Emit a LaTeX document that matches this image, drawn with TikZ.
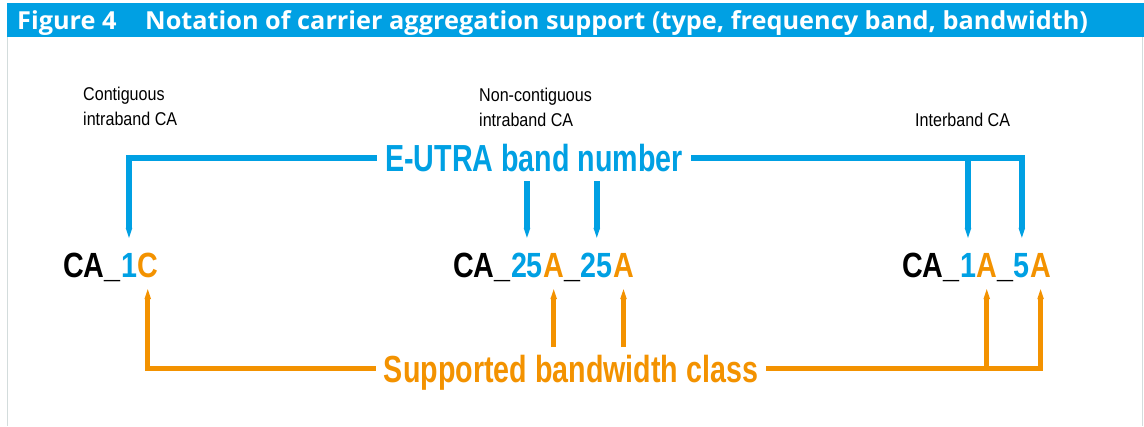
\documentclass[tikz,border=0pt]{standalone}
\usepackage{fontspec}
\setmainfont{Liberation Sans}
\newfontfamily\labfont[FakeStretch=0.76]{Liberation Sans}
\newfontfamily\cafont[FakeStretch=0.82]{Liberation Sans}
\newfontfamily\notefont[FakeStretch=0.87]{Liberation Sans}
\newfontfamily\headfont[FakeStretch=1.02]{Open Sans}
\usetikzlibrary{arrows.meta}
\definecolor{rsblue}{HTML}{00A0E3}
\definecolor{rsorange}{HTML}{F39200}
\definecolor{rsgray}{HTML}{D3DCDC}
\begin{document}
\begin{tikzpicture}[x=1pt,y=-1pt,
  thick line/.style={line width=5.5pt},
  blueline/.style={thick line, draw=rsblue},
  orangeline/.style={thick line, draw=rsorange},
  spike/.style={-{Triangle[width=0pt 1,length=12pt]}},
  bigtext/.style={font=\labfont\bfseries\fontsize{37.7}{40}\selectfont, inner sep=0pt},
  capart/.style={font=\cafont\bfseries\fontsize{35}{38}\selectfont, inner sep=0pt, anchor=base west, text height=25pt, text depth=0pt},
  note/.style={font=\notefont\fontsize{18.5}{25}\selectfont, align=left, inner sep=0pt, anchor=north west},
  headtext/.style={font=\headfont\bfseries\fontsize{24.8}{26}\selectfont, text=white, inner sep=0pt, anchor=base west},
]
\useasboundingbox (0,0) rectangle (1144,426);
% frame
\fill[rsblue] (7,3) rectangle (1144,37);
\draw[rsgray, line width=1.5pt] (7.5,37) -- (7.5,426);
\draw[rsgray, line width=1.5pt] (1142.5,37) -- (1142.5,426);
\node[headtext] (fig) at (17,29.5) {Figure 4};
\node[headtext] (ttl) at (145,29.5) {Notation of carrier aggregation support (type, frequency band, bandwidth)};

% notes
\node[note] (n1) at (83,87) {Contiguous\\intraband CA};
\node[note] (n2) at (479,88) {Non-contiguous\\intraband CA};
\node[note] (n3) at (915,113) {Interband CA};

% CA_1C
\node[capart] (a0) at (63,277) {CA\_};
\node[capart, text=rsblue] (a1) at (a0.base east) {1};
\node[capart, text=rsorange] (a2) at (a1.base east) {C};
% CA_25A_25A
\node[capart] (b0) at (453,277) {CA\_};
\node[capart, text=rsblue] (b1) at (b0.base east) {25};
\node[capart, text=rsorange] (b2) at (b1.base east) {A};
\node[capart] (b3) at (b2.base east) {\_};
\node[capart, text=rsblue] (b4) at (b3.base east) {25};
\node[capart, text=rsorange] (b5) at (b4.base east) {A};
% CA_1A_5A
\node[capart] (c0) at (902,277) {CA\_};
\node[capart, text=rsblue] (c1) at (c0.base east) {1};
\node[capart, text=rsorange] (c2) at (c1.base east) {A};
\node[capart] (c3) at (c2.base east) {\_};
\node[capart, text=rsblue] (c4) at (c3.base east) {5};
\node[capart, text=rsorange] (c5) at (c4.base east) {A};

% E-UTRA band number bracket
\node[bigtext, text=rsblue] (band) at (534,158) {E-UTRA band number};
\coordinate (bandL) at ([xshift=-8pt]band.west);
\coordinate (bandR) at ([xshift=8pt]band.east);
\coordinate (bandlow) at ([yshift=-9pt]band.south);
\draw[blueline, spike] (bandL) -| ([yshift=12pt]a1.north);
\draw[blueline, spike] (bandR) -| ([yshift=12pt]c4.north);
\draw[blueline, spike] (bandR -| c1.north) -- ([yshift=12pt]c1.north);
\draw[blueline, spike] (bandlow -| b1.north) -- ([yshift=12pt]b1.north);
\draw[blueline, spike] (bandlow -| b4.north) -- ([yshift=12pt]b4.north);

% Supported bandwidth class bracket
\node[bigtext, text=rsorange, anchor=base] (bw) at (571,382) {Supported bandwidth class};
\coordinate (bwL) at ([xshift=-8pt,yshift=13.5pt]bw.base west);
\coordinate (bwR) at ([xshift=8pt,yshift=13.5pt]bw.base east);
\coordinate (bwtop) at ([yshift=35pt]bw.base);
\draw[orangeline, spike] (bwL) -| ([yshift=-10pt]a2.south);
\draw[orangeline, spike] (bwR) -| ([yshift=-10pt]c5.south);
\draw[orangeline, spike] (bwR -| c2.south) -- ([yshift=-10pt]c2.south);
\draw[orangeline, spike] (bwtop -| b2.south) -- ([yshift=-10pt]b2.south);
\draw[orangeline, spike] (bwtop -| b5.south) -- ([yshift=-10pt]b5.south);
\end{tikzpicture}
\end{document}
